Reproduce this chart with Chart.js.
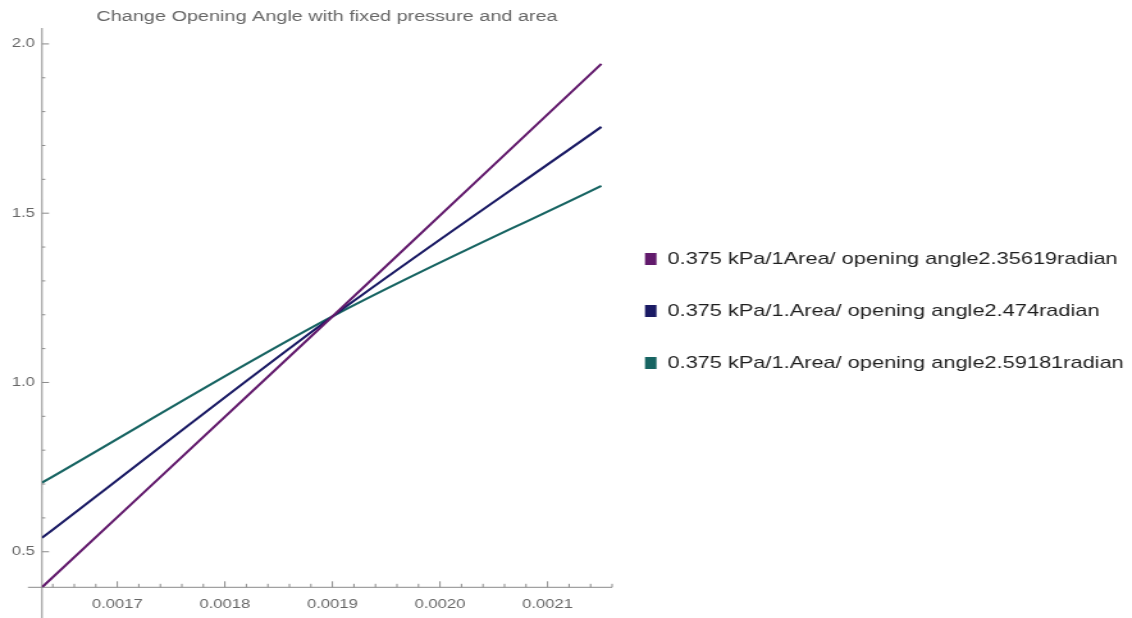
<!DOCTYPE html>
<html>
<head>
<meta charset="utf-8">
<title>Change Opening Angle with fixed pressure and area</title>
<script src="https://cdn.jsdelivr.net/npm/chart.js@4.4.1/dist/chart.umd.min.js"></script>
<style>
  html, body { margin: 0; padding: 0; background: #fff; overflow: hidden; }
  /* the plot is laid out narrow and stretched sideways to its final width */
  #wrap { position: relative; width: 884px; height: 618px; transform: scaleX(1.2805); transform-origin: 0 0; }
</style>
</head>
<body>
<div id="wrap"><canvas id="angleChart"></canvas></div>
<script>
// x positions the curves were evaluated at
const xValues = [0.00163, 0.0019, 0.00215];

// one curve per opening angle, all meeting near x = 0.0019
const angle1Values = [0.395, 1.195, 1.941];
const angle2Values = [0.541, 1.195, 1.755];
const angle3Values = [0.704, 1.195, 1.581];

const seriesLabels = [
  '0.375 kPa/1Area/ opening angle2.35619radian',
  '0.375 kPa/1.Area/ opening angle2.474radian',
  '0.375 kPa/1.Area/ opening angle2.59181radian'
];
const seriesColors = ['#621a6c', '#1a1a64', '#176462'];

const xTicks = [0.0017, 0.0018, 0.0019, 0.0020, 0.0021];
const xTickLabels = ['0.0017', '0.0018', '0.0019', '0.0020', '0.0021'];
const yTicks = [0.5, 1.0, 1.5, 2.0];
const yTickLabels = ['0.5', '1.0', '1.5', '2.0'];

const axisColor = '#8a8a8a';
const labelColor = '#666666';
const fontFamily = '"Liberation Sans", Arial, Helvetica, sans-serif';

Chart.defaults.font.family = fontFamily;

// axes that cross at the lower left, with ticks pointing into the plot
const crossedAxes = {
  id: 'crossedAxes',
  afterLayout(chart) {
    // pull the legend a bit closer to the plot
    chart.legend.left -= 9.3;
  },
  beforeDatasetsDraw(chart) {
    const { ctx, chartArea, scales: { x, y } } = chart;
    const left = chartArea.left;
    const bottom = chartArea.bottom;
    const right = x.getPixelForValue(x.max);

    ctx.save();
    ctx.strokeStyle = axisColor;
    ctx.lineWidth = 1;
    ctx.beginPath();
    ctx.moveTo(left, chartArea.top);
    ctx.lineTo(left, chart.height);
    ctx.moveTo(left - 11, bottom);
    ctx.lineTo(right, bottom);

    const xStep = 0.00002;
    for (let i = Math.ceil(x.min / xStep - 1e-6); i * xStep <= x.max + 1e-10; i++) {
      const px = x.getPixelForValue(i * xStep);
      const len = i % 5 === 0 ? 6 : 3.5;
      ctx.moveTo(px, bottom);
      ctx.lineTo(px, bottom - len);
    }

    const yStep = 0.1;
    for (let i = Math.ceil(y.min / yStep - 1e-6); i * yStep <= y.max + 1e-9; i++) {
      const py = y.getPixelForValue(i * yStep);
      const len = i % 5 === 0 ? 5.5 : 2.6;
      ctx.moveTo(left, py);
      ctx.lineTo(left + len, py);
    }
    ctx.stroke();
    ctx.restore();
  }
};

const makeSeries = (values, i) => ({
  label: seriesLabels[i],
  data: xValues.map((xv, k) => ({ x: xv, y: values[k] })),
  borderColor: seriesColors[i],
  backgroundColor: seriesColors[i],
  borderWidth: 2.1,
  pointRadius: 0,
  cubicInterpolationMode: 'monotone'
});

new Chart(document.getElementById('angleChart'), {
  type: 'line',
  data: {
    datasets: [
      makeSeries(angle1Values, 0),
      makeSeries(angle2Values, 1),
      makeSeries(angle3Values, 2)
    ]
  },
  options: {
    responsive: true,
    maintainAspectRatio: false,
    animation: false,
    layout: { padding: { top: 4, right: 0, bottom: 0, left: 0 } },
    scales: {
      x: {
        type: 'linear',
        min: 0.00163,
        max: 0.00216,
        afterBuildTicks: (scale) => { scale.ticks = xTicks.map(v => ({ value: v })); },
        afterFit: (scale) => { scale.height = 30.7; },
        grid: { display: false, drawTicks: false },
        border: { display: false },
        ticks: {
          color: labelColor,
          font: { size: 13 },
          padding: 9,
          maxRotation: 0,
          autoSkip: false,
          callback: (value, index) => xTickLabels[index]
        }
      },
      y: {
        type: 'linear',
        min: 0.395,
        max: 2.047,
        afterBuildTicks: (scale) => { scale.ticks = yTicks.map(v => ({ value: v })); },
        afterFit: (scale) => { scale.width = 32.8; },
        grid: { display: false, drawTicks: false },
        border: { display: false },
        ticks: {
          color: labelColor,
          font: { size: 13 },
          padding: 5.5,
          autoSkip: false,
          callback: (value, index) => yTickLabels[index]
        }
      }
    },
    plugins: {
      title: {
        display: true,
        text: 'Change Opening Angle with fixed pressure and area',
        fullSize: false,
        color: '#666666',
        font: { size: 15.5, weight: 'normal' },
        padding: { top: 3, bottom: 2.4 }
      },
      legend: {
        position: 'right',
        maxWidth: 406,
        labels: {
          boxWidth: 9,
          boxHeight: 12,
          padding: 35,
          color: '#1e1e1e',
          font: { size: 17 },
          generateLabels: (chart) =>
            Chart.defaults.plugins.legend.labels.generateLabels(chart).map(item => ({ ...item, lineWidth: 0 }))
        }
      },
      tooltip: { enabled: false }
    }
  },
  plugins: [crossedAxes]
});
</script>
</body>
</html>
